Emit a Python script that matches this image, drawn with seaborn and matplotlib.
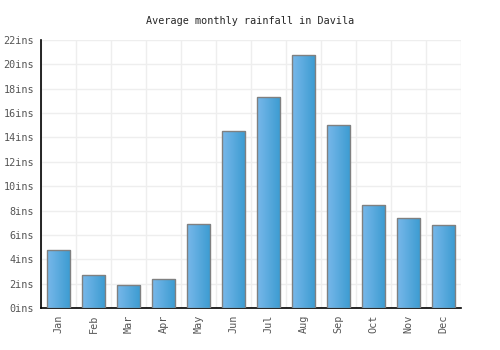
import matplotlib
matplotlib.use("Agg")
import matplotlib.pyplot as plt
import numpy as np
import pandas as pd
import seaborn as sns
from matplotlib.colors import LinearSegmentedColormap

months = ["Jan", "Feb", "Mar", "Apr", "May", "Jun",
          "Jul", "Aug", "Sep", "Oct", "Nov", "Dec"]
rainfall = [4.8, 2.7, 1.9, 2.4, 6.9, 14.5, 17.3, 20.8, 15.0, 8.45, 7.4, 6.8]
yticks = list(range(0, 23, 2))

df = pd.DataFrame({"month": months, "rain": rainfall})

sns.set_style("white")
plt.rcParams["font.family"] = ["DejaVu Sans Mono"]

fig = plt.figure(figsize=(5, 3.5), dpi=100)
ax = fig.add_axes([0.082, 0.12, 0.84, 0.766])

sns.barplot(data=df, x="month", y="rain", color="#4ea3dc", width=0.66,
            edgecolor="#808080", linewidth=1.0, ax=ax, zorder=3)

# horizontal gradient on each bar
cmap = LinearSegmentedColormap.from_list("bar", ["#78b8ea", "#3b9bd1"])
grad = np.linspace(0, 1, 64).reshape(1, -1)
for p in ax.patches:
    x0, y0 = p.get_x(), p.get_y()
    w, h = p.get_width(), p.get_height()
    im = ax.imshow(grad, cmap=cmap, aspect="auto", extent=[x0, x0 + w, y0, y0 + h],
                   zorder=3.5)
    im.set_clip_path(p)
    p.set_facecolor("none")
    p.set_zorder(4)

ax.set_xlim(-0.5, len(months) - 0.5)
ax.set_ylim(0, 22)
ax.set_yticks(yticks)
ax.set_yticklabels([f"{v}ins" for v in yticks])
ax.set_xticks(range(len(months)))
ax.set_xticklabels(months, rotation=90)

# vertical grid lines between categories
ax.set_xticks(np.arange(-0.5, len(months), 1), minor=True)
ax.grid(which="minor", axis="x", color="#eeeeee", linewidth=1, zorder=0)
ax.grid(which="major", axis="y", color="#eeeeee", linewidth=1, zorder=0)
ax.tick_params(axis="both", which="both", length=0, labelsize=7.3, colors="#555555", pad=5)

ax.set_xlabel("")
ax.set_ylabel("")
for s in ["top", "right"]:
    ax.spines[s].set_visible(False)
for s in ["left", "bottom"]:
    ax.spines[s].set_color("black")
    ax.spines[s].set_linewidth(1.2)

fig.suptitle("Average monthly rainfall in Davila", y=0.955, fontsize=7.3)

fig.savefig("out.png", dpi=100, facecolor="white")
